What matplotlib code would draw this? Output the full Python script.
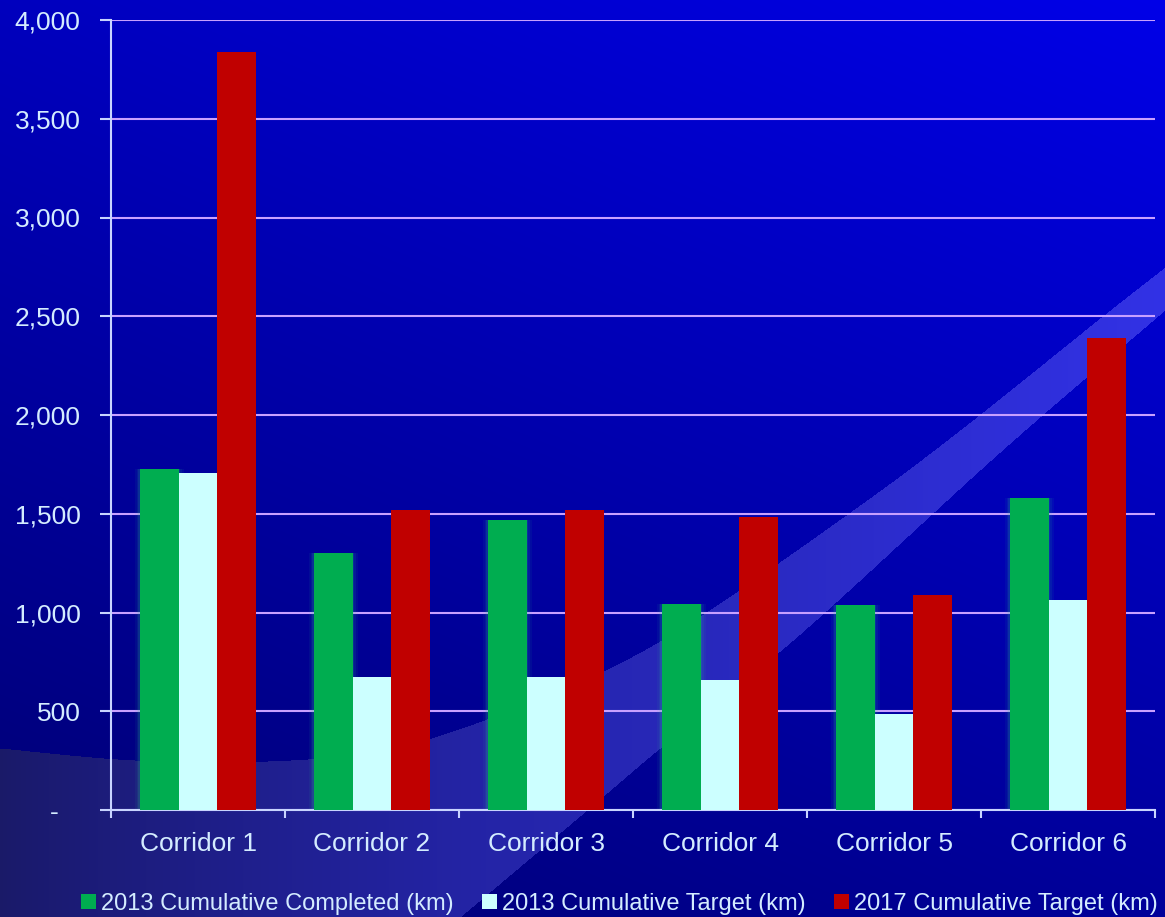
import numpy as np
import matplotlib
matplotlib.use("Agg")
import matplotlib.pyplot as plt
from matplotlib.path import Path
from matplotlib.ticker import FuncFormatter, FixedLocator

plt.rcParams['font.family'] = ['Liberation Sans', 'DejaVu Sans']

# data
corridors = ["Corridor 1", "Corridor 2", "Corridor 3", "Corridor 4", "Corridor 5", "Corridor 6"]
completed_2013 = [1727, 1301, 1468, 1043, 1040, 1580]
target_2013 = [1706, 673, 673, 658, 486, 1063]
target_2017 = [3838, 1519, 1519, 1484, 1089, 2390]
series_names = ["2013 Cumulative Completed (km)", "2013 Cumulative Target (km)",
                "2017 Cumulative Target (km)"]
series_colors = ["#00ad50", "#ccffff", "#c00000"]

W, H = 1165, 917
fig = plt.figure(figsize=(W / 100, H / 100), dpi=100)


def smooth(pts, n=20):
    # catmull-rom through the control points, so the swoosh has no corners
    p = np.array(pts, dtype=float)
    p = np.vstack([p[0], p, p[-1]])
    out = []
    for i in range(1, len(p) - 2):
        p0, p1, p2, p3 = p[i - 1], p[i], p[i + 1], p[i + 2]
        for s in np.linspace(0, 1, n, endpoint=False):
            out.append(0.5 * (2 * p1 + (-p0 + p2) * s
                              + (2 * p0 - 5 * p1 + 4 * p2 - p3) * s ** 2
                              + (-p0 + 3 * p1 - 3 * p2 + p3) * s ** 3))
    out.append(p[-2])
    return [tuple(q) for q in out]


# background: blue gradient + light swoosh in the lower part
yy, xx = np.mgrid[0:H, 0:W]
t = 0.35 * xx / W + 0.65 * (1 - yy / H)
bg = np.zeros((H, W, 3))
bg[..., 2] = (112 + (232 - 112) * t) / 255

upper = [(0, 748), (134, 760), (268, 761), (383, 750), (487, 719), (603, 671),
         (700, 616), (853, 510), (960, 430), (1100, 318), (1165, 267)]
lower = [(1165, 310), (1000, 452), (800, 634), (660, 748), (587, 810), (460, 917)]
poly = smooth(upper) + smooth(lower) + [(0, 917)]
mask = Path(poly).contains_points(np.c_[xx.ravel(), yy.ravel()]).reshape(H, W)
fx = xx / W
rg = (26 + 24 * fx) / 255
bb = (104 + 126 * fx ** 0.8) / 255
bg[..., 0] = np.where(mask, rg, 0)
bg[..., 1] = np.where(mask, rg, 0)
bg[..., 2] = np.where(mask, bb, bg[..., 2])

bg_ax = fig.add_axes([0, 0, 1, 1])
bg_ax.imshow(bg, aspect="auto", extent=(0, W, H, 0))
bg_ax.set_axis_off()

# main chart
ax = fig.add_axes([111 / W, 1 - 810 / H, (1155 - 111) / W, (810 - 20) / H])
ax.patch.set_alpha(0)

x = np.arange(len(corridors))
bw = 0.222
values = [completed_2013, target_2013, target_2017]
for i, (vals, col, name) in enumerate(zip(values, series_colors, series_names)):
    pos = x + (i - 1) * bw
    if i < 2:
        # soft glow around the green / white bars
        glow = "#30d090" if i == 0 else "#a0ffff"
        for k, a in [(0.06, 0.06), (0.04, 0.08), (0.02, 0.12)]:
            ax.bar(pos, vals, width=bw + k, color=glow, alpha=a, linewidth=0, zorder=2)
    ax.bar(pos, vals, width=bw, color=col, label=name, linewidth=0, zorder=3)

ax.set_xlim(-0.5, len(corridors) - 0.5)
ax.set_ylim(0, 4000)
ax.set_yticks(np.arange(0, 4001, 500))
ax.yaxis.set_major_formatter(FuncFormatter(lambda v, p: "-   " if v == 0 else f"{v:,.0f}"))
ax.yaxis.grid(True, color="#c8a0ff", linewidth=1.5, zorder=1)
ax.set_axisbelow(True)

ax.xaxis.set_major_locator(FixedLocator(np.arange(-0.5, len(corridors), 1)))
ax.xaxis.set_major_formatter(FuncFormatter(lambda v, p: ""))
ax.set_xticks(x, minor=True)
ax.set_xticklabels(corridors, minor=True)

axis_col = "#c8d4ff"
label_col = "#d4ecff"
for s in ["top", "right"]:
    ax.spines[s].set_visible(False)
for s in ["left", "bottom"]:
    ax.spines[s].set_color(axis_col)
    ax.spines[s].set_linewidth(1.5)
ax.tick_params(axis="y", colors=axis_col, labelcolor=label_col, length=8, width=1.5,
               pad=14, labelsize=19)
ax.tick_params(axis="x", which="major", colors=axis_col, length=6, width=1.5)
ax.tick_params(axis="x", which="minor", length=0, pad=16, labelsize=19, labelcolor=label_col)

leg = fig.legend(loc="center", bbox_to_anchor=(0.532, 1 - 904 / H), ncol=3, frameon=False,
                 fontsize=17, handlelength=0.6, handleheight=0.6, handletextpad=0.25,
                 columnspacing=1.2, borderaxespad=0)
for txt in leg.get_texts():
    txt.set_color(label_col)

fig.savefig("out.png", dpi=100)
